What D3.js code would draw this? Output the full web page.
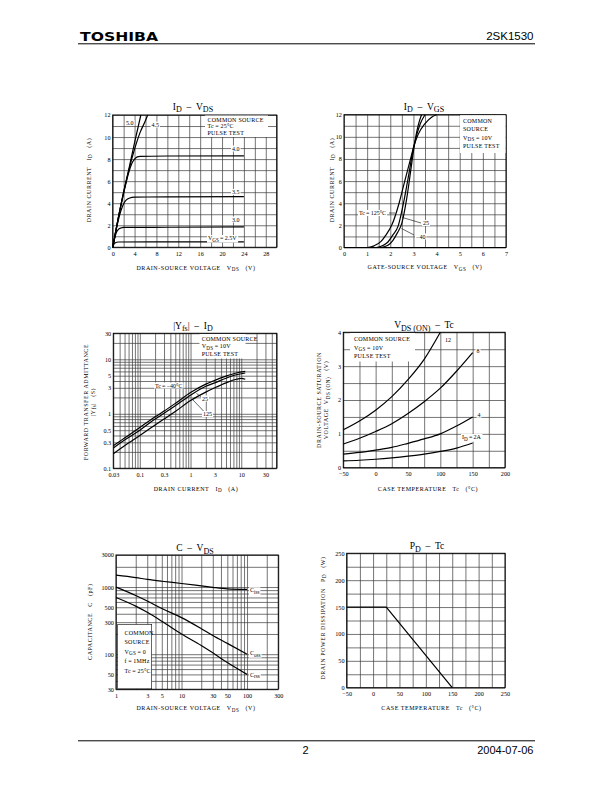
<!DOCTYPE html>
<html><head><meta charset="utf-8">
<script src="https://cdn.jsdelivr.net/npm/d3@7"></script>
<style>body{margin:0;background:#fff}svg{display:block}text{white-space:pre}</style>
</head><body>
<svg id="page" width="612" height="792"></svg>
<script>
// ================= DATA =================
// Chart 1: ID - VDS   (VDS [V], ID [A])
const c1Series = ["5.0","4.5","4.0","3.5","3.0","2.5"];
const c1_vgs50 = [[0,0],[0.5,1.3],[1,2.6],[2,5.0],[3,7.2],[4,9.5],[5.15,12]];
const c1_vgs45 = [[0,0],[0.5,1.3],[1,2.6],[2,5.0],[3,7.1],[4,8.9],[5,10.4],[6,11.5],[6.4,12]];
const c1_vgs40 = [[0,0],[0.5,1.3],[1,2.6],[2,4.9],[3,6.9],[3.5,7.6],[4,8.0],[4.5,8.2],[5,8.25],[10,8.28],[24,8.3]];
const c1_vgs35 = [[0,0],[0.5,1.25],[1,2.4],[1.5,3.3],[2,3.95],[2.5,4.3],[3,4.45],[4,4.55],[10,4.57],[24,4.6]];
const c1_vgs30 = [[0,0],[0.3,0.7],[0.6,1.25],[1,1.6],[1.5,1.75],[2,1.8],[10,1.82],[24,1.85]];
const c1_vgs25 = [[0,0],[0.2,0.25],[0.5,0.42],[1,0.48],[10,0.49],[24,0.5]];
const c1XTicks = [0,4,8,12,16,20,24,28];
const c1YTicks = [0,2,4,6,8,10,12];

// Chart 2: ID - VGS   (VGS [V], ID [A])
const c2Series = ["125","25","-40"];
const c2_tc125 = [[1.0,0],[1.3,0.15],[1.6,0.55],[1.8,1.1],[2.06,2.0],[2.38,4.0],[2.6,5.8],[2.9,8.2],[3.0,9.0],[3.2,10.2],[3.5,11.2],[3.8,11.8],[4.0,12]];
const c2_tc25  = [[1.4,0],[1.7,0.2],[1.9,0.5],[2.1,1.1],[2.35,2.0],[2.57,4.0],[2.8,6.6],[3.0,9.0],[3.12,10],[3.3,11.2],[3.5,12]];
const c2_tcm40 = [[1.6,0],[1.9,0.2],[2.1,0.6],[2.3,1.3],[2.5,2.2],[2.7,4.3],[2.9,7.2],[3.0,8.7],[3.1,10],[3.2,11],[3.35,12]];
const c2XTicks = [0,1,2,3,4,5,6,7];
const c2YTicks = [0,2,4,6,8,10,12];

// Chart 3: |Yfs| - ID   (ID [A], |Yfs| [S])
const c3Series = ["-40","25","125"];
const c3_tcm40 = [[0.03,0.26],[0.05,0.36],[0.1,0.56],[0.2,0.88],[0.3,1.12],[0.5,1.55],[1,2.45],[2,3.5],[3,4.1],[5,4.9],[8,5.6],[12,6.0]];
const c3_tc25  = [[0.03,0.235],[0.05,0.33],[0.1,0.5],[0.2,0.8],[0.3,1.02],[0.5,1.4],[1,2.2],[2,3.2],[3,3.7],[5,4.5],[8,5.2],[12,5.6]];
const c3_tc125 = [[0.03,0.185],[0.05,0.26],[0.1,0.4],[0.2,0.62],[0.3,0.8],[0.5,1.1],[1,1.75],[2,2.5],[3,3.0],[5,3.7],[8,4.3],[10,4.45],[12,4.3]];
const c3XTicks = [0.03,0.1,0.3,1,3,10,30];
const c3XTickLabels = ["0.03","0.1","0.3","1","3","10","30"];
const c3YTicks = [0.1,0.3,0.5,1,3,5,10,30];
const c3YTickLabels = ["0.1","0.3","0.5","1","3","5","10","30"];

// Chart 4: VDS(ON) - Tc   (Tc [°C], VDS(ON) [V])
const c4Series = ["12","8","4","2"];
const c4_id12 = [[-50,1.12],[-25,1.38],[0,1.7],[25,2.1],[50,2.6],[75,3.2],[100,4.0]];
const c4_id8  = [[-50,0.7],[-25,0.87],[0,1.07],[25,1.3],[50,1.6],[75,1.95],[100,2.35],[125,2.85],[150,3.4]];
const c4_id4  = [[-50,0.4],[-25,0.45],[0,0.52],[25,0.6],[50,0.72],[75,0.85],[100,1.0],[125,1.23],[150,1.5]];
const c4_id2  = [[-50,0.2],[-25,0.22],[0,0.25],[25,0.29],[50,0.34],[75,0.4],[100,0.48],[125,0.58],[150,0.73]];
const c4XTicks = [-50,0,50,100,150,200];
const c4YTicks = [0,1,2,3,4];

// Chart 5: C - VDS   (VDS [V], C [pF])
const c5Series = ["Ciss","Coss","Crss"];
const c5_ciss = [[1,1500],[2,1380],[3,1300],[5,1220],[10,1130],[20,1040],[30,990],[50,940],[100,920]];
const c5_coss = [[1,1000],[2,750],[3,620],[5,480],[10,350],[20,240],[30,190],[50,145],[100,100]];
const c5_crss = [[1,700],[2,520],[3,420],[5,310],[10,200],[20,135],[30,105],[50,75],[100,50]];
const c5XTicks = [1,3,5,10,30,50,100,300];
const c5YTicks = [30,50,100,300,500,1000,3000];

// Chart 6: PD - Tc   (Tc [°C], PD [W])
const c6_pd = [[-50,150],[25,150],[150,0]];
const c6XTicks = [-50,0,50,100,150,200,250];
const c6YTicks = [0,50,100,150,200,250];

// ================= DRAWING =================
const svg = d3.select("#page");
const SERIF = "'Liberation Serif','DejaVu Serif',serif";
const SANS = "'Liberation Sans',Arial,sans-serif";

function rich(t, s, size) {
  t.text(null);
  const parts = s.split(/(_\{[^}]*\})/).filter(p => p.length);
  let shifted = 0;
  parts.forEach(p => {
    if (p.startsWith("_{")) {
      t.append("tspan").attr("dy", size*0.28).attr("font-size", size*0.85).text(p.slice(2,-1));
      shifted = size*0.28;
    } else {
      const ts = t.append("tspan").text(p);
      if (shifted) { ts.attr("dy", -shifted); shifted = 0; }
    }
  });
  return t;
}

function txt(g, x, y, s, o = {}) {
  const size = o.size || 6;
  const t = g.append("text")
    .attr("x", x).attr("y", y)
    .attr("font-family", o.family || SERIF)
    .attr("font-size", size)
    .attr("text-anchor", o.anchor || "start")
    .attr("fill", "#000");
  if (o.ls) t.attr("letter-spacing", o.ls);
  if (o.rotate) t.attr("transform", `rotate(-90,${x},${y})`);
  rich(t, s, size);
  if (o.bg) {
    const b = t.node().getBBox();
    g.insert("rect", () => t.node())
      .attr("x", b.x - 1).attr("y", b.y).attr("width", b.width + 2).attr("height", b.height)
      .attr("fill", "#fff");
  }
  return t;
}

const TICK = 6.2, LAB = 6.0, ANN = 6.0;

function panel(o) {
  const g = svg.append("g");
  const x = (o.xLog ? d3.scaleLog() : d3.scaleLinear()).domain(o.xDomain).range([o.left, o.right]);
  const y = (o.yLog ? d3.scaleLog() : d3.scaleLinear()).domain(o.yDomain).range([o.bottom, o.top]);
  const h = o.bottom - o.top, w = o.right - o.left;
  const gx = g.append("g").attr("transform", `translate(0,${o.bottom})`)
    .call(d3.axisBottom(x).tickValues(o.xGrid).tickSize(-h).tickFormat(""));
  const gy = g.append("g").attr("transform", `translate(${o.left},0)`)
    .call(d3.axisLeft(y).tickValues(o.yGrid).tickSize(-w).tickFormat(""));
  [gx, gy].forEach(a => {
    a.select(".domain").remove();
    a.selectAll("line").attr("stroke", "#3a3a3a").attr("stroke-width", 0.7);
  });
  g.append("rect").attr("x", o.left).attr("y", o.top).attr("width", w).attr("height", h)
    .attr("fill", "none").attr("stroke", "#000").attr("stroke-width", 1);
  const lx = g.append("g").attr("transform", `translate(0,${o.bottom})`)
    .call(d3.axisBottom(x).tickValues(o.xTicks).tickSize(0).tickPadding(o.xPad || 4.2)
      .tickFormat((d, i) => o.xFmt ? o.xFmt(d, i) : String(d).replace("-", "\u2212")));
  const ly = g.append("g").attr("transform", `translate(${o.left},0)`)
    .call(d3.axisLeft(y).tickValues(o.yTicks).tickSize(0).tickPadding(o.yPad || 2.2)
      .tickFormat((d, i) => o.yFmt ? o.yFmt(d, i) : String(d)));
  [lx, ly].forEach(a => {
    a.select(".domain").remove();
    a.attr("font-family", SERIF).attr("font-size", TICK);
    a.selectAll("text").attr("fill", "#000");
  });
  txt(g, o.titleX, o.titleY, o.title, { size: 9.5, anchor: "middle" });
  txt(g, o.xlabX, o.xlabY, o.xlab, { size: LAB, anchor: "middle", ls: 0.55 });
  o.ylab.forEach((s, i) => txt(g, o.ylabX[i], o.ylabY, s, { size: LAB, anchor: "middle", rotate: true, ls: 0.55 }));
  return { g, x, y, o };
}

function curves(p, list, curveType) {
  const line = d3.line().x(d => p.x(d[0])).y(d => p.y(d[1])).curve(curveType || d3.curveMonotoneX);
  const cg = p.g.append("g");
  list.forEach(d => cg.append("path").attr("d", line(d)).attr("fill", "none")
    .attr("stroke", "#000").attr("stroke-width", 1.2).attr("stroke-linejoin", "round"));
}

function legendBox(p, x0, y0, x1, y1, lines, base, step, tx, stroke) {
  p.g.append("rect").attr("x", x0).attr("y", y0).attr("width", x1 - x0).attr("height", y1 - y0)
    .attr("fill", "#fff").attr("stroke", stroke ? "#000" : "none").attr("stroke-width", 0.6);
  lines.forEach((s, i) => txt(p.g, tx, base + i * step, s, { size: ANN, ls: 0.25 }));
}

function leader(p, x1, y1, x2, y2) {
  p.g.append("line").attr("x1", x1).attr("y1", y1).attr("x2", x2).attr("y2", y2)
    .attr("stroke", "#000").attr("stroke-width", 0.6);
}

// ---------- Header / footer ----------
svg.append("text").attr("x", 80).attr("y", 40.5).attr("font-family", "'DejaVu Sans',sans-serif")
  .attr("font-weight", 900).attr("font-size", 12).attr("textLength", 78).attr("lengthAdjust", "spacingAndGlyphs")
  .text("TOSHIBA");
svg.append("text").attr("x", 533.5).attr("y", 40).attr("font-family", SANS).attr("font-size", 11.5)
  .attr("text-anchor", "end").text("2SK1530");
svg.append("line").attr("x1", 78).attr("x2", 535).attr("y1", 43.8).attr("y2", 43.8).attr("stroke", "#000").attr("stroke-width", 1);
svg.append("line").attr("x1", 78).attr("x2", 535).attr("y1", 740.8).attr("y2", 740.8).attr("stroke", "#000").attr("stroke-width", 1);
svg.append("text").attr("x", 305.5).attr("y", 753.5).attr("font-family", SANS).attr("font-size", 11)
  .attr("text-anchor", "middle").text("2");
svg.append("text").attr("x", 533.5).attr("y", 753.5).attr("font-family", SANS).attr("font-size", 11)
  .attr("text-anchor", "end").text("2004-07-06");

// ---------- Chart 1 ----------
{
  const p = panel({
    xDomain: [0, 30], yDomain: [0, 12], left: 112.7, right: 276.7, top: 115, bottom: 247.3,
    xGrid: d3.range(0, 31, 2), yGrid: d3.range(0, 13, 1), xTicks: c1XTicks, yTicks: c1YTicks,
    title: "I_{D}  \u2013  V_{DS}", titleX: 193, titleY: 109.5,
    xlab: "DRAIN-SOURCE VOLTAGE   V_{DS}   (V)", xlabX: 196, xlabY: 269.5,
    ylab: ["DRAIN CURRENT   I_{D}   (A)"], ylabX: [90.5], ylabY: 180
  });
  legendBox(p, 205, 115.5, 268, 137, ["COMMON SOURCE", "Tc\u2009=\u200925\u00b0C", "PULSE TEST"], 121.5, 6.6, 207.5);
  curves(p, [c1_vgs50, c1_vgs45, c1_vgs40, c1_vgs35, c1_vgs30, c1_vgs25]);
  txt(p.g, 126, 125, c1Series[0], { size: ANN, bg: true });
  txt(p.g, 151.5, 126.5, c1Series[1], { size: ANN, bg: true });
  txt(p.g, 232, 150.5, c1Series[2], { size: ANN, bg: true });
  txt(p.g, 232, 194, c1Series[3], { size: ANN, bg: true });
  txt(p.g, 232, 221.5, c1Series[4], { size: ANN, bg: true });
  txt(p.g, 208, 240, "V_{GS}\u2009=\u2009" + c1Series[5] + "V", { size: ANN, bg: true });
}

// ---------- Chart 2 ----------
{
  const p = panel({
    xDomain: [0, 7], yDomain: [0, 12], left: 344, right: 506, top: 114.7, bottom: 247.5,
    xGrid: d3.range(0, 7.01, 0.5), yGrid: d3.range(0, 13, 1), xTicks: c2XTicks, yTicks: c2YTicks,
    title: "I_{D}  \u2013  V_{GS}", titleX: 424, titleY: 109.5,
    xlab: "GATE-SOURCE VOLTAGE   V_{GS}   (V)", xlabX: 425, xlabY: 269,
    ylab: ["DRAIN CURRENT   I_{D}   (A)"], ylabX: [333.5], ylabY: 180
  });
  legendBox(p, 460, 115.2, 505.5, 153, ["COMMON", "SOURCE", "V_{DS}\u2009=\u200910V", "PULSE TEST"], 122.5, 8.6, 463);
  curves(p, [c2_tc125, c2_tc25, c2_tcm40]);
  txt(p.g, 359, 215, "Tc\u2009=\u2009" + c2Series[0] + "\u00b0C", { size: ANN, bg: true });
  leader(p, 389, 213, 395, 213);
  leader(p, 402.5, 217.5, 421, 223);
  txt(p.g, 423, 225, c2Series[1], { size: ANN, bg: true });
  leader(p, 401.5, 228.5, 414, 235);
  txt(p.g, 416, 238.5, c2Series[2].replace("-", "\u2212"), { size: ANN, bg: true });
}

// ---------- Chart 3 ----------
{
  const p = panel({
    xLog: true, yLog: true, xDomain: [0.03, 50], yDomain: [0.1, 30],
    left: 113.3, right: 276.7, top: 333.3, bottom: 468.3,
    xGrid: [0.03,0.04,0.05,0.06,0.07,0.08,0.09,0.1,0.2,0.3,0.4,0.5,0.6,0.7,0.8,0.9,1,2,3,4,5,6,7,8,9,10,20,30,40,50],
    yGrid: [0.1,0.2,0.3,0.4,0.5,0.6,0.7,0.8,0.9,1,2,3,4,5,6,7,8,9,10,20,30],
    xTicks: c3XTicks, yTicks: c3YTicks,
    xFmt: (d, i) => c3XTickLabels[i], yFmt: (d, i) => c3YTickLabels[i],
    title: "|Y_{fs}|  \u2013  I_{D}", titleX: 193, titleY: 328.5,
    xlab: "DRAIN CURRENT   I_{D}   (A)", xlabX: 196, xlabY: 490.5,
    ylab: ["FORWARD TRANSFER ADMITTANCE", "|Y_{fs}|   (S)"], ylabX: [87.5, 94.5], ylabY: 402
  });
  legendBox(p, 199.5, 334, 245.5, 358.5, ["COMMON SOURCE", "V_{DS}\u2009=\u200910V", "PULSE TEST"], 340.7, 7.5, 201.7);
  curves(p, [c3_tcm40, c3_tc25, c3_tc125]);
  txt(p.g, 155, 387.5, "Tc\u2009=\u2009\u2212" + c3Series[0].slice(1) + "\u00b0C", { size: ANN, bg: true });
  leader(p, 196.5, 393.5, 201.5, 397);
  txt(p.g, 202, 400.5, c3Series[1], { size: ANN, bg: true });
  leader(p, 193, 400, 204, 411.5);
  txt(p.g, 203, 416, c3Series[2], { size: ANN, bg: true });
}

// ---------- Chart 4 ----------
{
  const p = panel({
    xDomain: [-50, 200], yDomain: [0, 4], left: 343.3, right: 505, top: 332.3, bottom: 467.7,
    xGrid: d3.range(-50, 201, 25), yGrid: d3.range(0, 4.01, 0.5), xTicks: c4XTicks, yTicks: c4YTicks,
    title: "V_{DS (ON)}  \u2013  Tc", titleX: 424, titleY: 328,
    xlab: "CASE TEMPERATURE   Tc   (\u00b0C)", xlabX: 428, xlabY: 490.5,
    ylab: ["DRAIN-SOURCE SATURATION", "VOLTAGE  V_{DS (ON)}   (V)"], ylabX: [320.5, 328], ylabY: 400
  });
  legendBox(p, 350, 333, 415, 361.5, ["COMMON SOURCE", "V_{GS}\u2009=\u200910V", "PULSE TEST"], 341, 8.6, 354);
  curves(p, [c4_id12, c4_id8, c4_id4, c4_id2]);
  txt(p.g, 445, 341.7, c4Series[0], { size: ANN, bg: true });
  txt(p.g, 476.5, 353.3, c4Series[1], { size: ANN, bg: true });
  txt(p.g, 477.5, 416.7, c4Series[2], { size: ANN, bg: true });
  txt(p.g, 462, 439, "I_{D}\u2009=\u2009" + c4Series[3] + "A", { size: ANN, bg: true });
}

// ---------- Chart 5 ----------
{
  const p = panel({
    xLog: true, yLog: true, xDomain: [1, 300], yDomain: [30, 3000],
    left: 116, right: 278.3, top: 555, bottom: 689.3,
    xGrid: [1,2,3,4,5,6,7,8,9,10,20,30,40,50,60,70,80,90,100,200,300],
    yGrid: [30,40,50,60,70,80,90,100,200,300,400,500,600,700,800,900,1000,2000,3000],
    xTicks: c5XTicks, yTicks: c5YTicks,
    title: "C  \u2013  V_{DS}", titleX: 195, titleY: 551,
    xlab: "DRAIN-SOURCE VOLTAGE   V_{DS}   (V)", xlabX: 196, xlabY: 710,
    ylab: ["CAPACITANCE   C   (pF)"], ylabX: [92.5], ylabY: 621.7
  });
  legendBox(p, 117.7, 624.3, 151.7, 688.8, ["COMMON", "SOURCE", "V_{GS}\u2009=\u20090", "f\u2009=\u20091MHz", "Tc\u2009=\u200925\u00b0C"], 635, 9.4, 124.5, true);
  curves(p, [c5_ciss, c5_coss, c5_crss]);
  txt(p.g, 250, 592.3, "C_{iss}", { size: ANN, bg: true });
  txt(p.g, 250, 655, "C_{oss}", { size: ANN, bg: true });
  txt(p.g, 250, 676.7, "C_{rss}", { size: ANN, bg: true });
}

// ---------- Chart 6 ----------
{
  const p = panel({
    xDomain: [-50, 250], yDomain: [0, 250], left: 346.7, right: 505, top: 553.3, bottom: 687.7,
    xGrid: d3.range(-50, 251, 25), yGrid: d3.range(0, 251, 25), xTicks: c6XTicks, yTicks: c6YTicks,
    title: "P_{D}  \u2013  Tc", titleX: 427, titleY: 549,
    xlab: "CASE TEMPERATURE   Tc   (\u00b0C)", xlabX: 431.5, xlabY: 709.5,
    ylab: ["DRAIN POWER DISSIPATION   P_{D}   (W)"], ylabX: [324.5], ylabY: 618
  });
  curves(p, [c6_pd], d3.curveLinear);
}
</script>
</body></html>
